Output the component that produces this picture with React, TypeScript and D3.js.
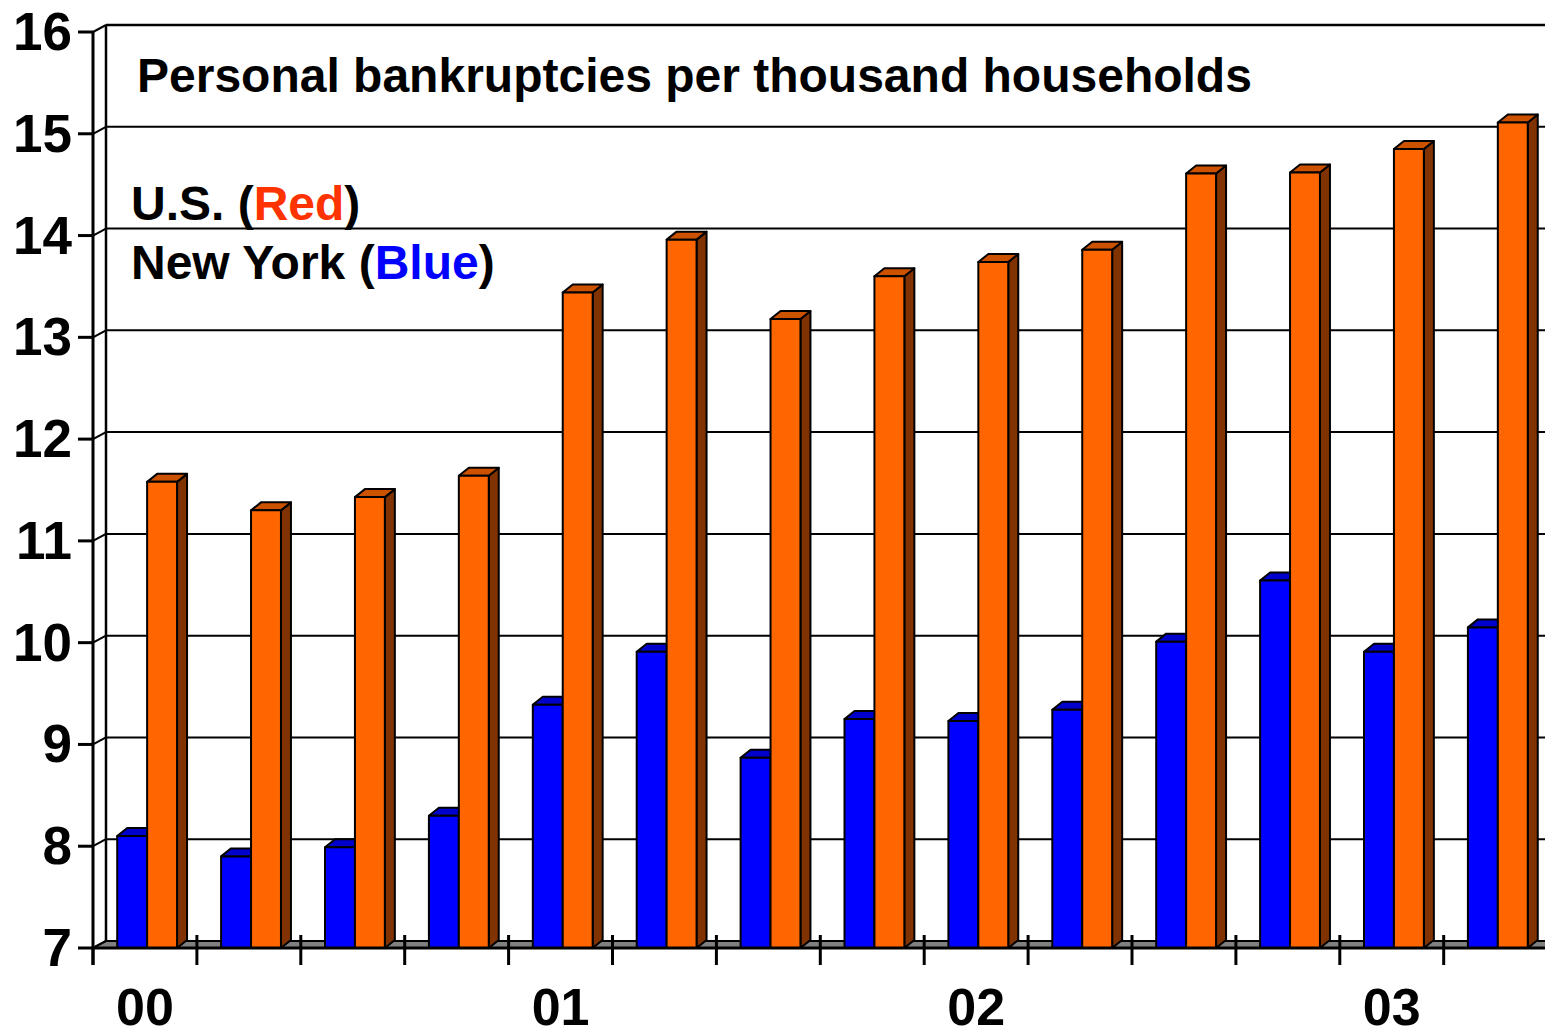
import React from "react";
import * as d3 from "d3";

const categories = ["00Q1","00Q2","00Q3","00Q4","01Q1","01Q2","01Q3","01Q4","02Q1","02Q2","02Q3","02Q4","03Q1","03Q2"];
const usValues = [11.58, 11.30, 11.43, 11.64, 13.44, 13.96, 13.18, 13.60, 13.74, 13.86, 14.61, 14.62, 14.85, 15.11];
const nyValues = [8.10, 7.90, 7.99, 8.30, 9.39, 9.91, 8.87, 9.25, 9.23, 9.34, 10.01, 10.61, 9.91, 10.15];
const yTicks = [7, 8, 9, 10, 11, 12, 13, 14, 15, 16];
const yearLabels = [{ cat: "00Q1", label: "00" }, { cat: "01Q1", label: "01" }, { cat: "02Q1", label: "02" }, { cat: "03Q1", label: "03" }];
const title = "Personal bankruptcies per thousand households";

const W = 1545, H = 1030;
const FONT = "'Liberation Sans', Arial, sans-serif";

export default function App() {
  const x = d3.scaleBand<string>().domain(categories).range([93, 93 + 14 * 103.9]).paddingInner(0).paddingOuter(0);
  const y = d3.scaleLinear().domain([7, 16]).range([948, 32]);
  const wdx = 13, wdy = -7; // wall depth
  const bdx = 10, bdy = -8; // bar depth
  const bw = x.bandwidth();
  const barW = bw * 0.288;
  const barOff = bw * 0.233;
  const y0 = y(7);

  const bar = (x0: number, v: number, front: string, top: string, side: string, key: string) => {
    const yt = y(v);
    const x1 = x0 + barW;
    return (
      <g key={key} stroke="#000" strokeWidth={2} strokeLinejoin="round">
        <polygon points={`${x1},${y0} ${x1 + bdx},${y0 + bdy} ${x1 + bdx},${yt + bdy} ${x1},${yt}`} fill={side} />
        <polygon points={`${x0},${yt} ${x1},${yt} ${x1 + bdx},${yt + bdy} ${x0 + bdx},${yt + bdy}`} fill={top} />
        <rect x={x0} y={yt} width={barW} height={y0 - yt} fill={front} />
      </g>
    );
  };

  const xEnd = W + 5;

  return (
    <svg width={W} height={H} style={{ position: "absolute", left: 0, top: 0, background: "#fff" }}>
      {yTicks.map((t) => (
        <line key={"g" + t} x1={93 + wdx} x2={xEnd} y1={y(t) + wdy} y2={y(t) + wdy} stroke="#000" strokeWidth={t === 16 ? 2.5 : 2} />
      ))}
      <line x1={93 + wdx} x2={93 + wdx} y1={y(16) + wdy} y2={y(7) + wdy} stroke="#000" strokeWidth={2.5} />
      {yTicks.map((t) => (
        <line key={"d" + t} x1={93} x2={93 + wdx} y1={y(t)} y2={y(t) + wdy} stroke="#000" strokeWidth={2} />
      ))}
      <polygon points={`${93},${y0} ${93 + wdx},${y0 + wdy} ${xEnd},${y0 + wdy} ${xEnd},${y0}`} fill="#808080" stroke="#000" strokeWidth={2} />
      {categories.map((c, i) => (
        <line key={"xt" + c} x1={x(c)!} x2={x(c)!} y1={i === 0 ? y0 : y0 - 13} y2={y0 + 17} stroke="#000" strokeWidth={3} />
      ))}
      <line x1={93 + 14 * 103.9} x2={93 + 14 * 103.9} y1={y0 - 13} y2={y0 + 17} stroke="#000" strokeWidth={3} />
      {categories.map((c, i) => {
        const bx = x(c)! + barOff;
        return (
          <g key={"b" + c}>
            {bar(bx, nyValues[i], "#0000FF", "#0000CC", "#000080", "ny" + c)}
            {bar(bx + barW, usValues[i], "#FF6600", "#CC5200", "#803300", "us" + c)}
          </g>
        );
      })}
      <line x1={93} x2={xEnd} y1={y0} y2={y0} stroke="#000" strokeWidth={3} />
      <line x1={93} x2={93} y1={y(16)} y2={y0 + 17} stroke="#000" strokeWidth={3} />
      {yTicks.map((t) => (
        <line key={"yt" + t} x1={78} x2={93} y1={y(t)} y2={y(t)} stroke="#000" strokeWidth={3} />
      ))}
      {yTicks.map((t) => (
        <text key={"yl" + t} x={72} y={y(t) + 18} textAnchor="end" fontFamily={FONT} fontWeight="bold" fontSize={53} fill="#000">{t}</text>
      ))}
      {yearLabels.map((d) => (
        <text key={"xl" + d.label} x={x(d.cat)! + bw / 2} y={1025} textAnchor="middle" fontFamily={FONT} fontWeight="bold" fontSize={52} fill="#000">{d.label}</text>
      ))}
      <text x={137} y={92} fontFamily={FONT} fontWeight="bold" fontSize={48} fill="#000">{title}</text>
      <text x={131} y={220} fontFamily={FONT} fontWeight="bold" fontSize={48} fill="#000">
        U.S. (<tspan fill="#FF3300">Red</tspan>)
      </text>
      <text x={131} y={279} fontFamily={FONT} fontWeight="bold" fontSize={48} fill="#000">
        New York (<tspan fill="#0000FF">Blue</tspan>)
      </text>
    </svg>
  );
}
